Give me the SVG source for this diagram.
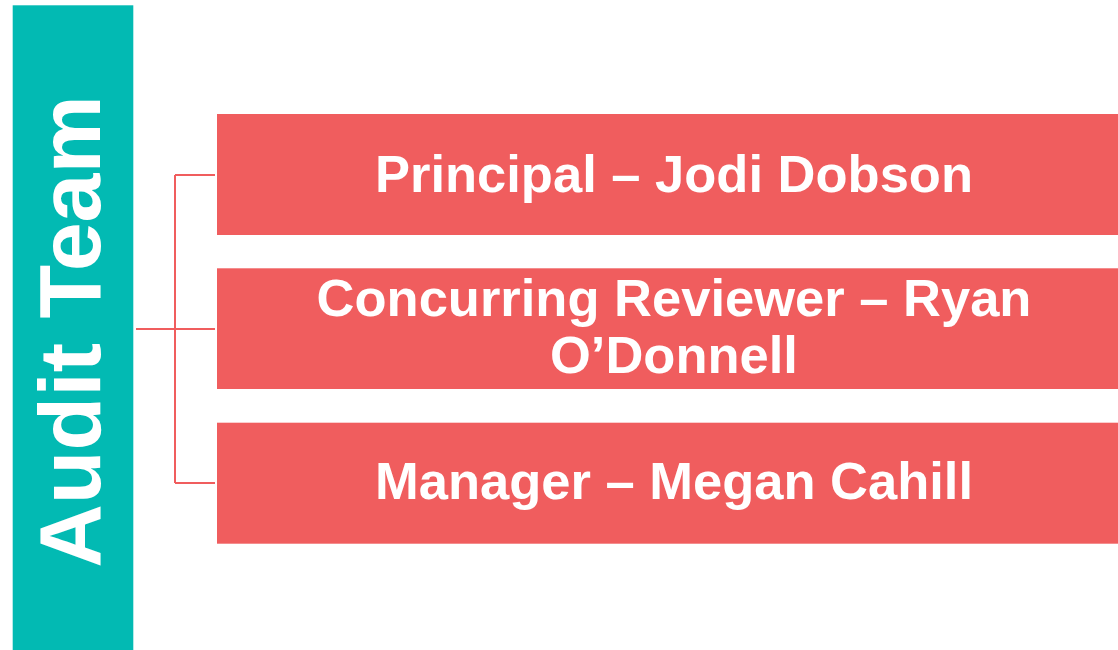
<svg xmlns="http://www.w3.org/2000/svg" width="1118" height="650" viewBox="0 0 1118 650">
<style>
.box{fill:#F05D5E;}
.lbl{font-family:"Liberation Sans",Arial,sans-serif;font-weight:bold;font-size:52.5px;fill:#FFFFFF;text-anchor:middle;}
.conn{fill:none;stroke:#F05D5E;stroke-width:2;}
</style>
<rect width="1118" height="650" fill="#FFFFFF"/>
<g id="audit-team">
<rect x="12.7" y="5.3" width="120.6" height="650" fill="#02BAB3"/>
<text transform="translate(100,331.5) rotate(-90)" font-family="'Liberation Sans',Arial,sans-serif" font-weight="bold" font-size="88" fill="#FFFFFF" text-anchor="middle">Audit Team</text>
</g>
<g id="connectors">
<path class="conn" d="M136,329 H215 M175,175 V483 M175,175 H215 M175,483 H215"/>
</g>
<g id="principal">
<rect class="box" x="217" y="114" width="914" height="121"/>
<text class="lbl" x="674" y="192">Principal – Jodi Dobson</text>
</g>
<g id="reviewer">
<rect class="box" x="217" y="268.3" width="914" height="120.7"/>
<text class="lbl" x="674" y="316">Concurring Reviewer – Ryan</text>
<text class="lbl" x="674" y="373">O’Donnell</text>
</g>
<g id="manager">
<rect class="box" x="217" y="422.7" width="914" height="121"/>
<text class="lbl" x="674" y="499">Manager – Megan Cahill</text>
</g>
</svg>
